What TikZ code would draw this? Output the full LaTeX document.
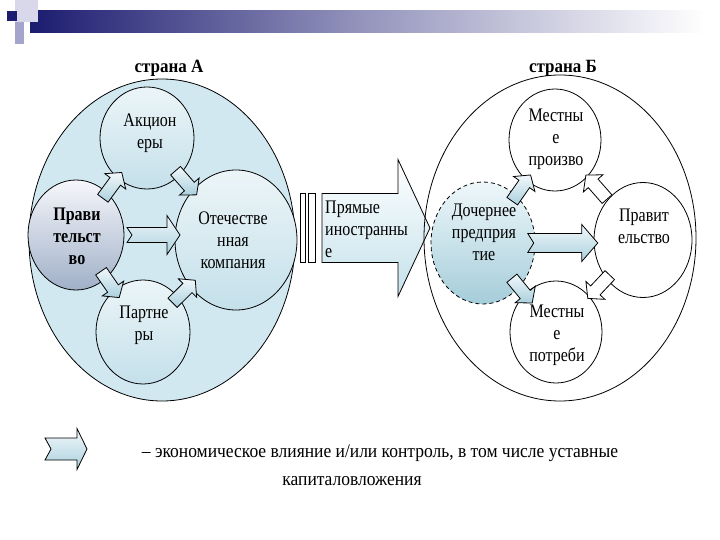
\documentclass[tikz,border=0pt]{standalone}
\usepackage{fontspec}
\setmainfont{Liberation Serif}
\usetikzlibrary{shapes.geometric,calc}
\definecolor{navy}{RGB}{28,28,112}
\definecolor{sqlight}{RGB}{216,216,234}
\definecolor{sqmid}{RGB}{164,164,204}
\definecolor{leftbg}{RGB}{210,232,240}
\definecolor{arrtop}{RGB}{242,248,251}
\definecolor{arrbot}{RGB}{170,208,221}
\definecolor{ctop}{RGB}{236,245,248}
\definecolor{cbot}{RGB}{196,224,234}
\definecolor{gtop}{RGB}{246,247,251}
\definecolor{gbot}{RGB}{160,176,200}
\definecolor{dtop}{RGB}{238,247,250}
\definecolor{dbot}{RGB}{165,205,218}
\definecolor{bigbot}{RGB}{196,225,235}
\pgfdeclarelayer{mid}
\pgfsetlayers{mid,main}
\begin{document}
\begin{tikzpicture}[x=1pt,y=-1pt,
  circ/.style={ellipse, draw=black, line width=.8pt, inner sep=0pt},
  txt/.style={font=\fontsize{16}{18.4}\selectfont, align=center, inner sep=0pt, yscale=1.2, transform shape},
  ttl/.style={font=\fontsize{17}{20}\selectfont\bfseries, inner sep=0pt, yscale=1.1, transform shape},
  legtxt/.style={font=\fontsize{17.5}{20}\selectfont, inner sep=0pt, yscale=1.1, transform shape},
  barrowfill/.style={top color=arrtop, bottom color=arrbot},
  pics/barrow/.style n args={5}{code={
    \path[draw=black, line width=.8pt, line join=miter, barrowfill]
      (-#1,#2) -- ({#1-#4},#2) -- ({#1-#4},#3) -- (#1,0) -- ({#1-#4},-#3)
      -- ({#1-#4},-#2) -- (-#1,-#2) -- ({-#1+#5},0) -- cycle;}},
  pics/bigarrow/.style={code={
    \path[draw=black, line width=.8pt, top color=white, bottom color=bigbot]
      (-41,-34.5) -- (35,-34.5) -- (35,-68.5) -- (67,0) -- (35,68.5)
      -- (35,34.5) -- (-41,34.5) -- cycle;
    \path[draw=black, line width=.8pt, fill=white] (-63,-34.5) rectangle (-58,34.5);
    \path[draw=black, line width=.8pt, fill=white] (-55,-34.5) rectangle (-48,34.5);}}
]
\useasboundingbox (0,0) rectangle (720,540);

% banner
\shade[left color=navy, right color=white, middle color={rgb,255:red,150;green,150;blue,190}] (30,11) rectangle (705,33);
\fill[sqlight] (15,0) rectangle (38,22);
\fill[sqmid] (15,22) rectangle (24,44);
\fill[navy] (7,11) rectangle (17,21);

% country A
\node[circ, fill=leftbg, minimum width=266pt, minimum height=322pt] (countryA) at (162,240) {};
\node[circ, top color=ctop, bottom color=cbot, minimum width=94pt, minimum height=102pt] (akc) at (147,138) {};
\node[circ, top color=gtop, bottom color=gbot, minimum width=96pt, minimum height=110pt] (praA) at (76,235) {};
\node[circ, top color=ctop, bottom color=cbot, minimum width=122pt, minimum height=140pt] (otech) at (236,240) {};
\node[circ, top color=ctop, bottom color=cbot, minimum width=94pt, minimum height=104pt] (part) at (143,332) {};

% country B
\node[circ, minimum width=272pt, minimum height=326pt] (countryB) at (560,238) {};
\node[circ, fill=white, minimum width=92pt, minimum height=102pt] (mp) at (555,140) {};
\node[circ, dashed, dash pattern=on 4pt off 3pt, top color=dtop, bottom color=dbot, minimum width=104pt, minimum height=122pt] (doch) at (483,243) {};
\node[circ, fill=white, minimum width=98pt, minimum height=115pt] (pravB) at (643,240) {};
\node[circ, fill=white, minimum width=92pt, minimum height=102pt] (mpot) at (556,332) {};

% big arrow A -> B
\coordinate (ay) at (0,228);
\begin{pgfonlayer}{mid}
\path (countryA.east |- ay) -- (doch.west |- ay) pic[pos=.5] {bigarrow};
\end{pgfonlayer}

% small arrows, country A
\path (praA) -- (akc) pic[pos=.5, sloped, allow upside down] {barrow={16}{6.5}{13}{11}{0}};
\path (akc) -- (otech) pic[pos=.5, sloped, allow upside down] {barrow={16}{6.5}{13}{11}{0}};
\path (praA) -- (part) pic[pos=.5, sloped, allow upside down] {barrow={16}{6.5}{13}{11}{0}};
\path (part) -- (otech) pic[pos=.5, sloped, allow upside down] {barrow={16}{6.5}{13}{11}{0}};
\path (praA.east) -- (praA.east -| otech.west) pic[pos=.58] {barrow={26.5}{7.5}{19.5}{13}{5}};

% small arrows, country B
\path (doch) -- (mp) pic[pos=.5, sloped, allow upside down] {barrow={16}{6.5}{13}{11}{0}};
\path (doch) -- (mpot) pic[pos=.5, sloped, allow upside down] {barrow={16}{6.5}{13}{11}{0}};
\path (pravB) -- (mp) pic[pos=.55, sloped, allow upside down, barrowfill/.style={fill=white}] {barrow={16}{6.5}{13}{11}{0}};
\path (pravB) -- (mpot) pic[pos=.45, sloped, allow upside down, barrowfill/.style={fill=white}] {barrow={16}{6.5}{13}{11}{0}};
\path (doch.east) -- (doch.east -| pravB.west) pic[pos=.47] {barrow={35}{9.5}{18.5}{16}{6}};

% legend arrow
\pic at (66,449) {barrow={21}{11}{20.5}{10}{6}};

% texts
\node[ttl] (ttlA) at (169,68) {страна А};
\node[ttl] (ttlB) at (563,68) {страна Б};
\node[txt] (tAkc) at (150,133) {Акцион\\еры};
\node[txt, font=\fontsize{16}{18.4}\selectfont\bfseries] (tPraA) at (77,236) {Прави\\тельст\\во};
\node[txt] (tOtech) at (233,240) {Отечестве\\нная\\компания};
\node[txt] (tPart) at (144,325) {Партне\\ры};
\node[txt] (tMp) at (556,139) {Местны\\е\\произво};
\node[txt] (tDoch) at (484,232) {Дочернее\\предприя\\тие};
\node[txt] (tPravB) at (644,226) {Правит\\ельство};
\node[txt] (tMpot) at (557,335) {Местны\\е\\потреби};
\node[txt, align=left, anchor=west] (tBig) at (325,229) {Прямые\\иностранны\\е};
\node[legtxt] (leg1) at (380,453) {– экономическое влияние и/или контроль, в том числе уставные};
\node[legtxt] (leg2) at (352,481) {капиталовложения};
\end{tikzpicture}
\end{document}
